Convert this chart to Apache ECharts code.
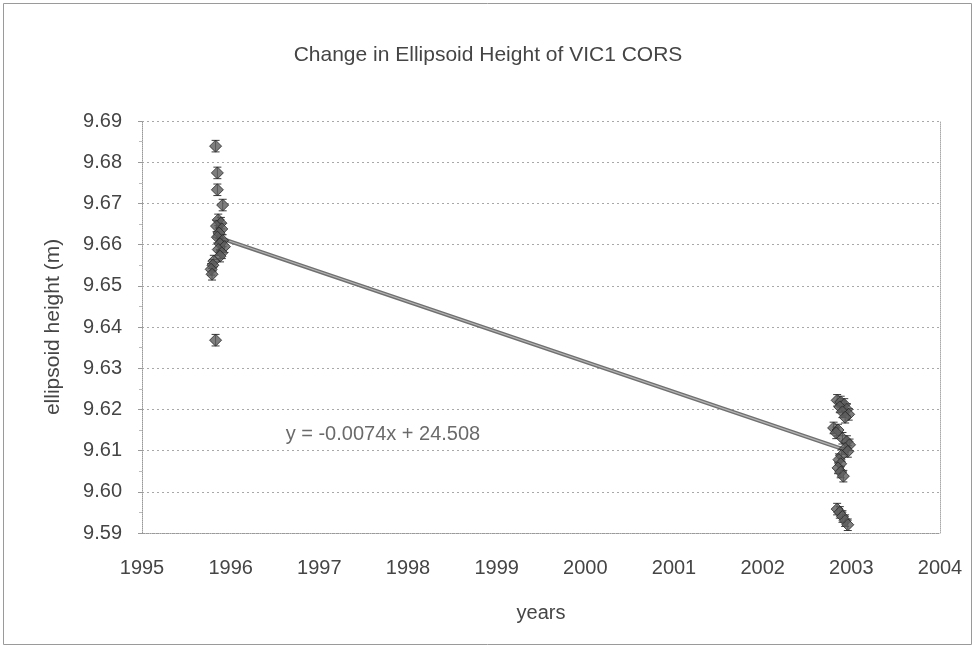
<!DOCTYPE html>
<html>
<head>
<meta charset="utf-8">
<script src="https://cdn.jsdelivr.net/npm/echarts@6/dist/echarts.min.js"></script>
<style>
html,body{margin:0;padding:0;background:#fff;}
#chart{width:976px;height:649px;}
</style>
</head>
<body>
<div id="chart"></div>
<script>
// ---- data ----
const titleText = "Change in Ellipsoid Height of VIC1 CORS";
const xAxisName = "years";
const yAxisName = "ellipsoid height (m)";
const equationText = "y = -0.0074x + 24.508";
const equationPos = [1996.62, 9.6138];

const years1996 = [1995.83, 1995.85, 1995.85, 1995.91, 1995.86, 1995.89, 1995.84, 1995.90, 1995.87, 1995.85, 1995.91,
                   1995.88, 1995.93, 1995.86, 1995.90, 1995.88, 1995.81, 1995.80, 1995.78, 1995.79, 1995.83];
const heights1996 = [9.6839, 9.6774, 9.6733, 9.6696, 9.6660, 9.6652, 9.6645, 9.6638, 9.6628, 9.6618, 9.6610,
                     9.6602, 9.6595, 9.6588, 9.6580, 9.6572, 9.6560, 9.6550, 9.6540, 9.6528, 9.6368];

const years2003 = [2002.84, 2002.88, 2002.92, 2002.87, 2002.95, 2002.90, 2002.97, 2002.93,
                   2002.80, 2002.85, 2002.83, 2002.90, 2002.95, 2002.98, 2002.93, 2002.96,
                   2002.89, 2002.86, 2002.88, 2002.85, 2002.88, 2002.91,
                   2002.84, 2002.87, 2002.90, 2002.93, 2002.96];
const heights2003 = [9.6222, 9.6218, 9.6212, 9.6206, 9.6200, 9.6194, 9.6188, 9.6181,
                     9.6155, 9.6150, 9.6143, 9.6130, 9.6122, 9.6114, 9.6105, 9.6098,
                     9.6088, 9.6078, 9.6068, 9.6058, 9.6048, 9.6038,
                     9.5958, 9.5950, 9.5940, 9.5930, 9.5920];
const errorHalf = 0.0014;

const trendX = [1995.80, 2002.98];
const trendY = [9.6622, 9.6098];

const xTicks = [1995, 1996, 1997, 1998, 1999, 2000, 2001, 2002, 2003, 2004];
const yTicks = [9.59, 9.60, 9.61, 9.62, 9.63, 9.64, 9.65, 9.66, 9.67, 9.68, 9.69];

// ---- build ----
const allX = years1996.concat(years2003);
const allY = heights1996.concat(heights2003);
const points = allX.map((x, i) => [x, allY[i]]);
const errData = allX.map((x, i) => [x, allY[i] - errorHalf, allY[i] + errorHalf]);
const trendData = trendX.map((x, i) => [x, trendY[i]]);

const textColor = '#454545';
const fontFam = '"Liberation Sans", Arial, sans-serif';

const chart = echarts.init(document.getElementById('chart'), null, {renderer: 'canvas'});
chart.setOption({
  backgroundColor: '#fff',
  animation: false,
  title: {
    text: titleText, left: 'center', top: 40,
    textStyle: {fontFamily: fontFam, fontWeight: 'normal', fontSize: 21, color: textColor}
  },
  graphic: [{
    type: 'rect', shape: {x: 3.5, y: 3.5, width: 968, height: 641},
    style: {fill: 'none', stroke: '#9a9a9a', lineWidth: 1}, silent: true
  }],
  grid: {left: 142, right: 36, top: 121, bottom: 116},
  xAxis: [{
    type: 'value', min: xTicks[0], max: xTicks[xTicks.length - 1], interval: 1,
    name: xAxisName, nameLocation: 'middle', nameGap: 70,
    nameTextStyle: {fontFamily: fontFam, fontSize: 20, color: textColor},
    axisLine: {show: true, lineStyle: {color: '#999', type: 'dotted'}},
    axisTick: {show: false},
    axisLabel: {fontFamily: fontFam, fontSize: 20, color: textColor, margin: 25,
      formatter: v => String(Math.round(v))},
    splitLine: {show: false}
  }],
  yAxis: [{
    type: 'value', min: yTicks[0], max: yTicks[yTicks.length - 1], interval: 0.01,
    name: yAxisName, nameLocation: 'middle', nameGap: 78,
    nameTextStyle: {fontFamily: fontFam, fontSize: 21, color: textColor},
    axisLine: {show: true, lineStyle: {color: '#999', type: 'dotted'}},
    axisTick: {show: true, length: 4, inside: false, lineStyle: {color: '#999'}},
    minorTick: {show: true, splitNumber: 2, length: 3, lineStyle: {color: '#bbb'}},
    axisLabel: {fontFamily: fontFam, fontSize: 20, color: textColor, margin: 20,
      formatter: v => v.toFixed(2)},
    splitLine: {show: true, lineStyle: {color: '#a8a8a8', type: [2, 3], width: 1}}
  }, {
    type: 'value', position: 'right', min: yTicks[0], max: yTicks[yTicks.length - 1], interval: 0.01,
    axisLine: {show: true, lineStyle: {color: '#aaa', type: 'dotted'}},
    axisTick: {show: false}, axisLabel: {show: false}, splitLine: {show: false}
  }],
  series: [
    {
      type: 'line', data: trendData,
      symbol: 'none', lineStyle: {color: '#707070', width: 4}, z: 3
    },
    {
      type: 'line', data: trendData,
      symbol: 'none', lineStyle: {color: '#b5b5b5', width: 1.2}, z: 3
    },
    {
      type: 'custom', z: 4,
      renderItem: function (params, api) {
        const x = api.value(0);
        const lo = api.coord([x, api.value(1)]);
        const hi = api.coord([x, api.value(2)]);
        const cap = 4;
        const st = {stroke: '#3a3a3a', lineWidth: 1};
        return {type: 'group', children: [
          {type: 'line', shape: {x1: lo[0], y1: lo[1], x2: hi[0], y2: hi[1]}, style: st},
          {type: 'line', shape: {x1: lo[0] - cap, y1: lo[1], x2: lo[0] + cap, y2: lo[1]}, style: st},
          {type: 'line', shape: {x1: hi[0] - cap, y1: hi[1], x2: hi[0] + cap, y2: hi[1]}, style: st}
        ]};
      },
      encode: {x: 0, y: [1, 2]},
      data: errData
    },
    {
      type: 'scatter', data: points, symbol: 'diamond', symbolSize: 12, z: 5,
      itemStyle: {color: '#5e5e5e', borderColor: '#262626', borderWidth: 1}
    },
    {
      type: 'scatter', data: [equationPos], symbolSize: 0, z: 6, silent: true,
      label: {show: true, position: 'right', formatter: equationText, distance: 0,
        fontFamily: fontFam, fontSize: 20, color: textColor}
    }
  ]
});
</script>
</body>
</html>
